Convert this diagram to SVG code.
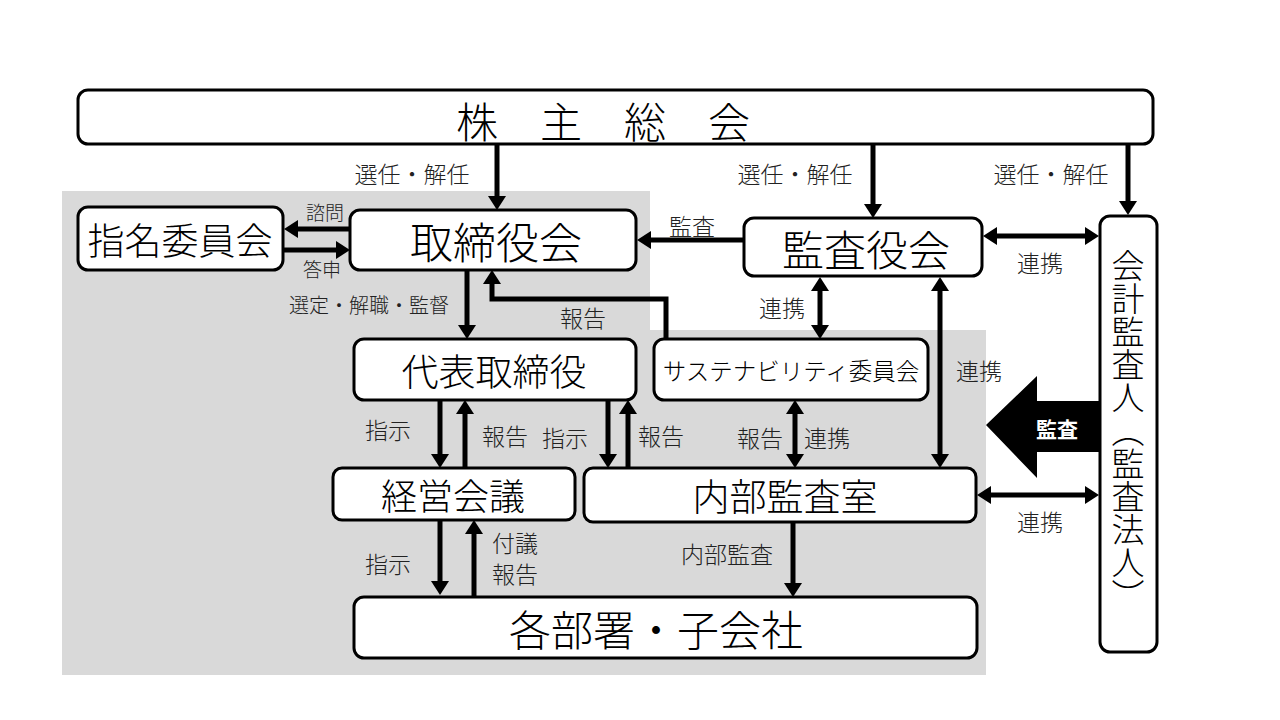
<svg xmlns="http://www.w3.org/2000/svg" width="1280" height="720" viewBox="0 0 1280 720">
<defs>
<style>
.box{fill:#fff;stroke:#000;stroke-width:3}
.t{font-family:"Noto Sans CJK JP","Noto Sans CJK SC",sans-serif;font-weight:300;fill:#000;text-anchor:middle;dominant-baseline:central}
.lbl{font-family:"Noto Sans CJK JP","Noto Sans CJK SC",sans-serif;font-weight:300;fill:#222;font-size:23px;dominant-baseline:central;text-anchor:middle}
.ln{fill:none;stroke:#000;stroke-width:5}
.a{marker-end:url(#ah)}
.b{marker-start:url(#ah);marker-end:url(#ah)}
</style>
<marker id="ah" viewBox="0 0 14 18" refX="0" refY="9" markerWidth="14" markerHeight="18" markerUnits="userSpaceOnUse" orient="auto-start-reverse">
<path d="M0,0 L14,9 L0,18 z" fill="#000"/>
</marker>
</defs>
<rect width="1280" height="720" fill="#fff"/>
<polygon points="62,191 650,191 650,330 986,330 986,675 62,675" fill="#d9d9d9"/>

<g id="connectors">
<line class="ln a" x1="497" y1="145" x2="497" y2="196"/>
<line class="ln a" x1="873" y1="145" x2="873" y2="204"/>
<line class="ln a" x1="1128" y1="145" x2="1128" y2="201"/>
<line class="ln a" x1="350" y1="229" x2="298" y2="229"/>
<line class="ln a" x1="284" y1="250" x2="336" y2="250"/>
<line class="ln a" x1="744" y1="240" x2="651" y2="240"/>
<line class="ln b" x1="997" y1="236" x2="1085" y2="236"/>
<line class="ln a" x1="467" y1="271" x2="467" y2="325"/>
<path class="ln a" d="M666,339 V299 H492 V284"/>
<line class="ln b" x1="820" y1="291" x2="820" y2="325"/>
<line class="ln b" x1="940" y1="291" x2="940" y2="454"/>
<line class="ln a" x1="440" y1="401" x2="440" y2="454"/>
<line class="ln a" x1="465" y1="467" x2="465" y2="414"/>
<line class="ln a" x1="608" y1="401" x2="608" y2="454"/>
<line class="ln a" x1="628" y1="467" x2="628" y2="414"/>
<line class="ln b" x1="795" y1="414" x2="795" y2="454"/>
<line class="ln b" x1="991" y1="495" x2="1085" y2="495"/>
<line class="ln a" x1="440" y1="521" x2="440" y2="581"/>
<line class="ln a" x1="474" y1="596" x2="474" y2="534"/>
<line class="ln a" x1="793" y1="523" x2="793" y2="583"/>
<polygon points="986,425 1037,376 1037,401 1100,401 1100,452 1037,452 1037,478" fill="#000"/>
</g>

<g id="labels">
<text class="lbl" x="412" y="173">選任・解任</text>
<text class="lbl" x="795" y="173">選任・解任</text>
<text class="lbl" x="1051" y="173">選任・解任</text>
<text class="lbl" x="325" y="211" style="font-size:19px">諮問</text>
<text class="lbl" x="322" y="268" style="font-size:19px">答申</text>
<text class="lbl" x="692" y="225">監査</text>
<text class="lbl" x="1040" y="262">連携</text>
<text class="lbl" x="369" y="304" style="font-size:20px">選定・解職・監督</text>
<text class="lbl" x="583" y="317">報告</text>
<text class="lbl" x="782" y="307">連携</text>
<text class="lbl" x="979" y="370">連携</text>
<text class="lbl" x="388" y="429">指示</text>
<text class="lbl" x="505" y="435">報告</text>
<text class="lbl" x="565" y="437">指示</text>
<text class="lbl" x="661" y="435">報告</text>
<text class="lbl" x="760" y="437">報告</text>
<text class="lbl" x="827" y="437">連携</text>
<text class="lbl" x="1040" y="521">連携</text>
<text class="lbl" x="388" y="563">指示</text>
<text class="lbl" x="515" y="542">付議</text>
<text class="lbl" x="515" y="573">報告</text>
<text class="lbl" x="727" y="553">内部監査</text>
<text class="lbl" x="1057" y="428" style="fill:#fff;font-weight:bold;font-size:21px">監査</text>
</g>

<g id="n-shareholders">
<rect class="box" x="78" y="90" width="1075" height="54" rx="10"/>
<text class="t" x="603" y="119" style="font-size:42px">株　主　総　会</text>
</g>
<g id="n-nomination">
<rect class="box" x="78" y="207" width="205" height="63" rx="10"/>
<text class="t" x="180" y="239" style="font-size:37px">指名委員会</text>
</g>
<g id="n-board">
<rect class="box" x="350" y="210" width="286" height="60" rx="10"/>
<text class="t" x="496" y="240" style="font-size:43px">取締役会</text>
</g>
<g id="n-auditboard">
<rect class="box" x="744" y="218" width="238" height="58" rx="10"/>
<text class="t" x="866" y="247" style="font-size:42px">監査役会</text>
</g>
<g id="n-accounting-auditor">
<rect class="box" x="1100" y="216" width="57" height="436" rx="10"/>
<text class="t" x="1128" y="430" style="font-size:33px;writing-mode:vertical-rl">会計監査人（監査法人）</text>
</g>
<g id="n-rep">
<rect class="box" x="354" y="339" width="282" height="61" rx="10"/>
<text class="t" x="494" y="370" style="font-size:37px">代表取締役</text>
</g>
<g id="n-sustainability">
<rect class="box" x="654" y="339" width="274" height="61" rx="10"/>
<text class="t" x="791" y="370" style="font-size:23.5px">サステナビリティ委員会</text>
</g>
<g id="n-mgmt">
<rect class="box" x="333" y="468" width="242" height="52" rx="9"/>
<text class="t" x="453" y="494" style="font-size:36px">経営会議</text>
</g>
<g id="n-internal-audit">
<rect class="box" x="584" y="468" width="392" height="54" rx="9"/>
<text class="t" x="785" y="495" style="font-size:37px">内部監査室</text>
</g>
<g id="n-depts">
<rect class="box" x="354" y="597" width="623" height="61" rx="10"/>
<text class="t" x="656" y="627" style="font-size:42px">各部署・子会社</text>
</g>
</svg>
